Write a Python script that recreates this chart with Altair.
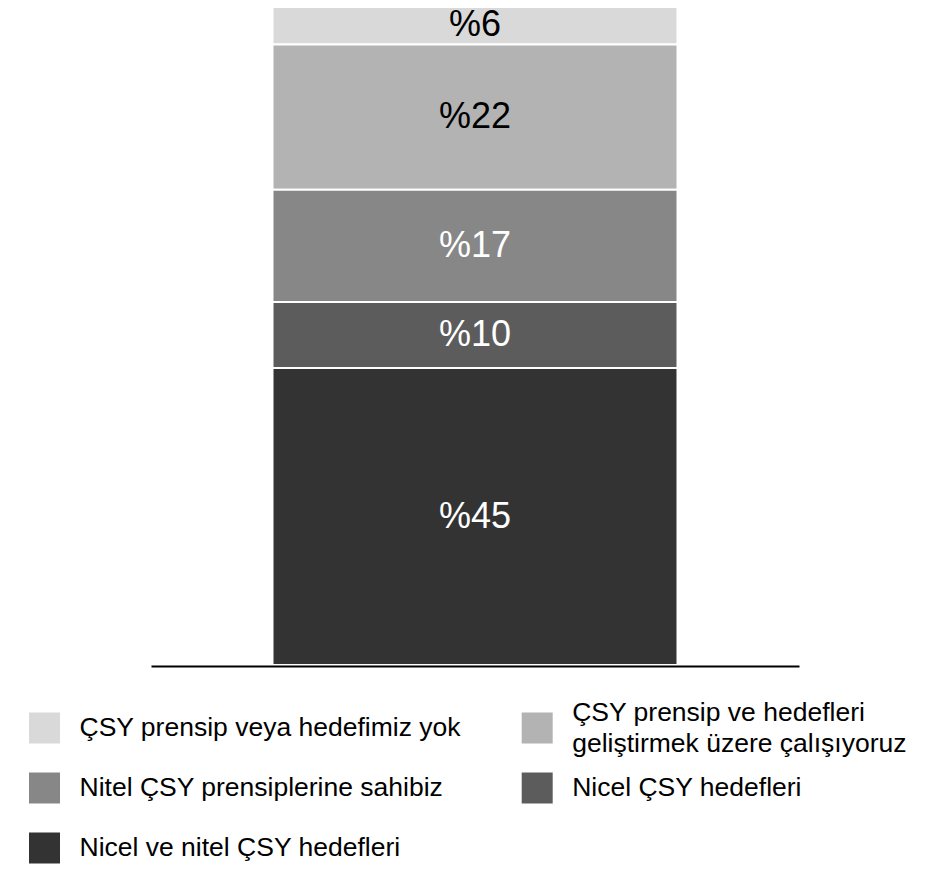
import altair as alt
import pandas as pd

# ---- data (top of stack first) ----
categories = [
    "ÇSY prensip veya hedefimiz yok",
    "ÇSY prensip ve hedefleri\ngeliştirmek üzere çalışıyoruz",
    "Nitel ÇSY prensiplerine sahibiz",
    "Nicel ÇSY hedefleri",
    "Nicel ve nitel ÇSY hedefleri",
]
values = [6, 22, 17, 10, 45]

# ---- styles ----
colors = ["#d9d9d9", "#b3b3b3", "#878787", "#5c5c5c", "#333333"]
FONT = "Liberation Sans"
LINE_H = 31

df = pd.DataFrame({
    "category": categories,
    "value": values,
    "rank": list(range(len(categories))),
})
df["group"] = "all"

color_scale = alt.Scale(domain=categories, range=colors)

x_enc = alt.X(
    "group:N",
    title=None,
    scale=alt.Scale(paddingInner=0, paddingOuter=0.3),
    axis=alt.Axis(labels=False, ticks=False, domain=True, domainColor="black",
                  domainWidth=2, title=None, grid=False, offset=1, zindex=1),
)
y_scale = alt.Scale(domain=[0, 100], nice=False)

base = alt.Chart(df)

bars = base.mark_bar(stroke="white", strokeWidth=2).encode(
    x=x_enc,
    y=alt.Y("value:Q", stack="zero", scale=y_scale, axis=None),
    color=alt.Color("category:N", scale=color_scale, legend=None),
    order=alt.Order("rank:Q", sort="descending"),
)

labels = base.transform_stack(
    stack="value",
    groupby=["group"],
    sort=[alt.SortField("rank", order="descending")],
    as_=["y0", "y1"],
).transform_calculate(
    mid="(datum.y0 + datum.y1) / 2",
    label="'%' + datum.value",
).mark_text(font=FONT, fontSize=36, baseline="middle", align="center").encode(
    x=x_enc,
    y=alt.Y("mid:Q", scale=y_scale, axis=None),
    text="label:N",
    color=alt.condition("datum.rank <= 1", alt.value("black"), alt.value("white")),
)

bar_chart = alt.layer(bars, labels).properties(width=648, height=660)

# ---- custom legend (2 columns, row-major) ----
leg_base = alt.Chart(df).transform_calculate(
    col="datum.rank % 2",
    row="floor(datum.rank / 2)",
    nlines="length(split(datum.category, '\\n'))",
    off=f"-(datum.nlines - 1) * {LINE_H} / 2",
)
lx = alt.X("col:O", axis=None,
           scale=alt.Scale(type="point", range=[-106.5, 386.2], padding=0))
ly = alt.Y("row:O", axis=None,
           scale=alt.Scale(type="point", range=[24, 144], padding=0))

squares = leg_base.mark_square(size=961, opacity=1).encode(
    x=lx, y=ly,
    color=alt.Color("category:N", scale=color_scale, legend=None),
)
texts = leg_base.mark_text(
    align="left", baseline="middle", dx=35, font=FONT, fontSize=26.5,
    lineBreak="\n", lineHeight=LINE_H, color="black",
).encode(
    x=lx, y=ly,
    yOffset=alt.YOffset("off:Q", scale=None),
    text="category:N",
)

legend_chart = alt.layer(squares, texts).properties(width=400, height=160)

chart = alt.vconcat(bar_chart, legend_chart, spacing=33).properties(
    padding={"left": 21, "top": -4, "right": 5, "bottom": 0}
).configure_view(stroke=None)

chart.save("out.html", embed_options={"renderer": "svg", "actions": False})
